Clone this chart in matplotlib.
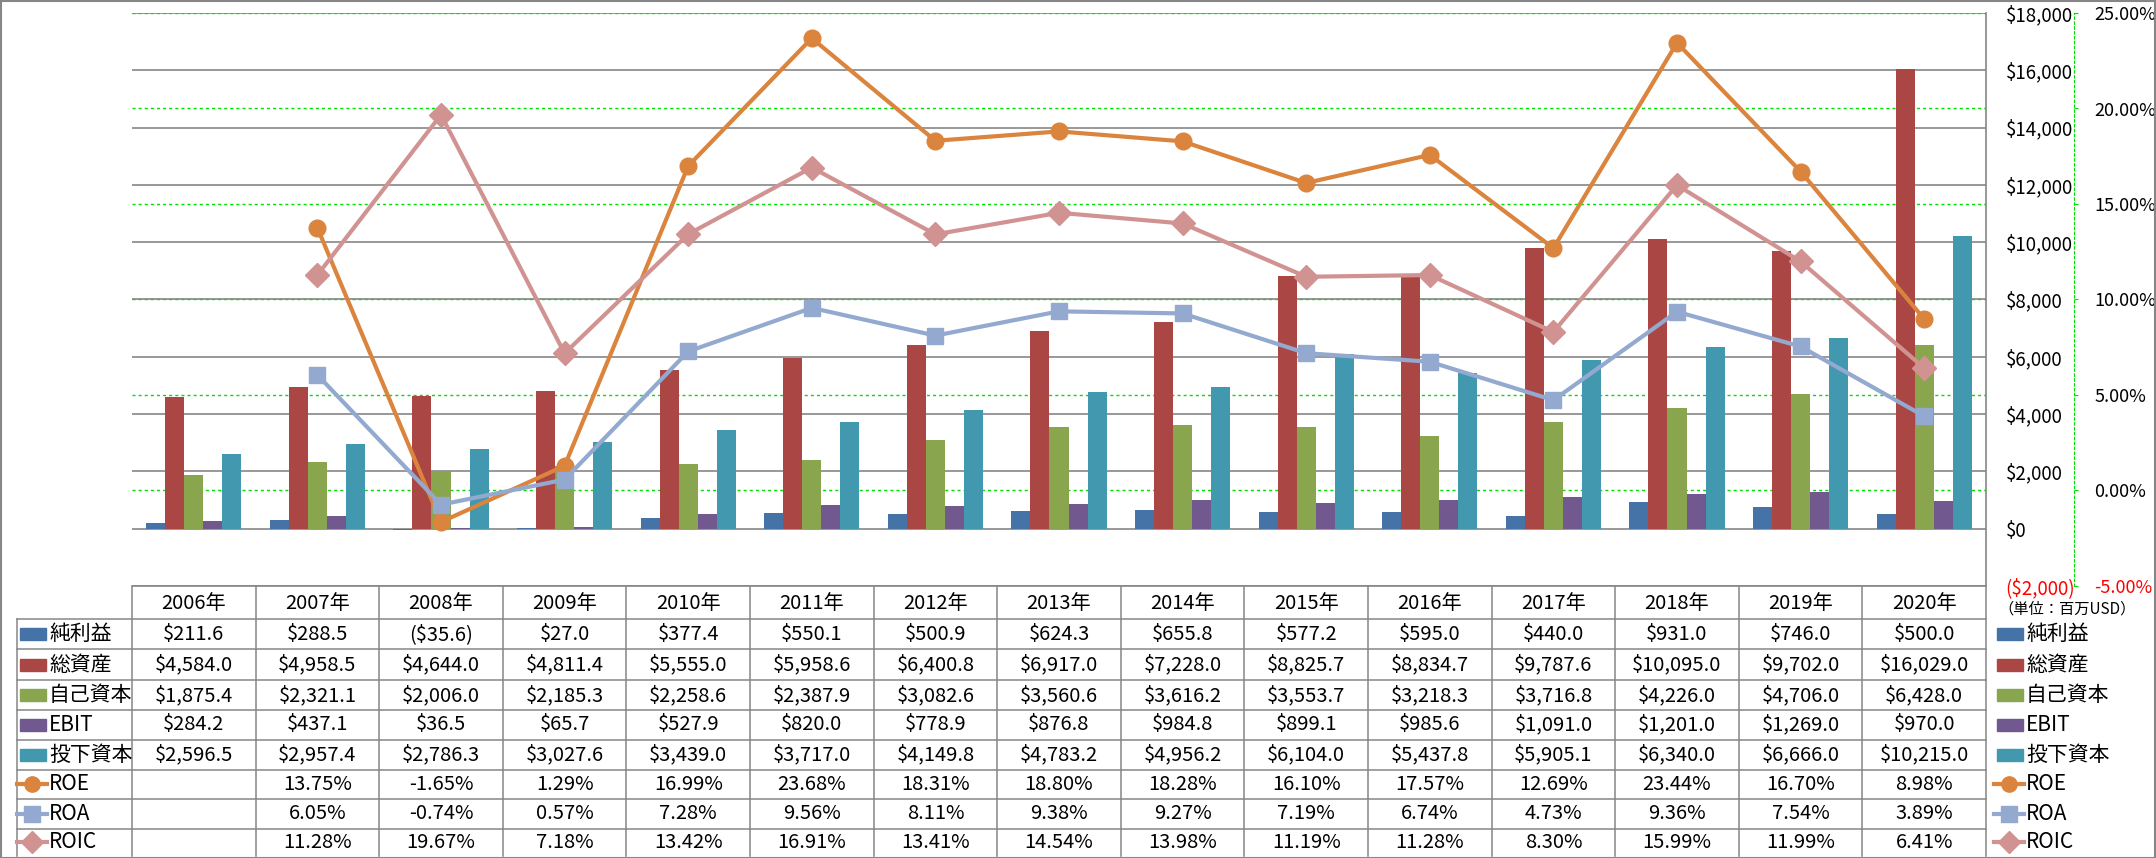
import matplotlib

matplotlib.use("Agg")
import matplotlib.pyplot as plt
import numpy as np
from matplotlib.lines import Line2D
from matplotlib.patches import Rectangle
from matplotlib.ticker import FuncFormatter

plt.rcParams["font.family"] = ["Noto Sans CJK JP", "DejaVu Sans"]

YEARS = [2006, 2007, 2008, 2009, 2010, 2011, 2012, 2013, 2014, 2015, 2016, 2017, 2018, 2019, 2020]

BAR_LABELS = ["純利益", "総資産", "自己資本", "EBIT", "投下資本"]
NET_INCOME = [211.6, 288.5, -35.6, 27.0, 377.4, 550.1, 500.9, 624.3, 655.8, 577.2, 595.0, 440.0, 931.0, 746.0, 500.0]
TOTAL_ASSETS = [4584.0, 4958.5, 4644.0, 4811.4, 5555.0, 5958.6, 6400.8, 6917.0, 7228.0, 8825.7, 8834.7, 9787.6, 10095.0, 9702.0, 16029.0]
EQUITY = [1875.4, 2321.1, 2006.0, 2185.3, 2258.6, 2387.9, 3082.6, 3560.6, 3616.2, 3553.7, 3218.3, 3716.8, 4226.0, 4706.0, 6428.0]
EBIT = [284.2, 437.1, 36.5, 65.7, 527.9, 820.0, 778.9, 876.8, 984.8, 899.1, 985.6, 1091.0, 1201.0, 1269.0, 970.0]
INVESTED = [2596.5, 2957.4, 2786.3, 3027.6, 3439.0, 3717.0, 4149.8, 4783.2, 4956.2, 6104.0, 5437.8, 5905.1, 6340.0, 6666.0, 10215.0]

LINE_LABELS = ["ROE", "ROA", "ROIC"]
ROE = [np.nan, 13.75, -1.65, 1.29, 16.99, 23.68, 18.31, 18.80, 18.28, 16.10, 17.57, 12.69, 23.44, 16.70, 8.98]
ROA = [np.nan, 6.05, -0.74, 0.57, 7.28, 9.56, 8.11, 9.38, 9.27, 7.19, 6.74, 4.73, 9.36, 7.54, 3.89]
ROIC = [np.nan, 11.28, 19.67, 7.18, 13.42, 16.91, 13.41, 14.54, 13.98, 11.19, 11.28, 8.30, 15.99, 11.99, 6.41]

BAR_COLORS = ["#4572A7", "#AA4643", "#89A54E", "#71588F", "#4198AF"]
LINE_COLORS = ["#DB843D", "#93A9CF", "#D19392"]
LINE_MARKERS = ["o", "s", "D"]
GRID_GRAY = "#868686"
GREEN = "#00E000"
FS = 14.5
AXIS_FS = 13.5
LABEL_FS = 15

W, H = 2156, 858
PLOT_L, PLOT_R, PLOT_T, PLOT_B = 132, 1986, 13, 586
ROW_EDGES = [587, 619.3, 649.3, 680.3, 710.3, 739.5, 769.5, 799.3, 828.5, 856]


def dollar(v, _=None, decimals=0):
    text = f"${abs(v):,.{decimals}f}"
    return f"({text})" if v < 0 else text


bar_series = [NET_INCOME, TOTAL_ASSETS, EQUITY, EBIT, INVESTED]
line_series = [ROE, ROA, ROIC]
x = np.arange(len(YEARS))

fig = plt.figure(figsize=(W / 100, H / 100), dpi=100)
pos = [PLOT_L / W, 1 - PLOT_B / H, (PLOT_R - PLOT_L) / W, (PLOT_B - PLOT_T) / H]

# bottom layer: green percent gridlines (behind the bars)
ax_grid = fig.add_axes(pos)
ax_grid.set_ylim(-5, 25)
ax_grid.set_xlim(-0.5, len(YEARS) - 0.5)
ax_grid.set_yticks(np.arange(-5, 26, 5))
ax_grid.set_xticks([])
ax_grid.tick_params(length=0, labelleft=False)
ax_grid.grid(axis="y", color=GREEN, linewidth=1.0, linestyle=(0, (2.2, 2.2)))
for spine in ax_grid.spines.values():
    spine.set_visible(False)

# bars on dollar axis
ax = fig.add_axes(pos)
ax.set_facecolor("none")
width = 0.154
for k, (vals, color) in enumerate(zip(bar_series, BAR_COLORS)):
    ax.bar(x + (k - 2) * width, vals, width=width, color=color, zorder=2)
ax.set_xlim(-0.5, len(YEARS) - 0.5)
ax.set_ylim(-2000, 18000)
ax.set_yticks(np.arange(-2000, 18001, 2000))
ax.set_xticks([])
ax.yaxis.set_major_formatter(FuncFormatter(dollar))
ax.grid(axis="y", color=GRID_GRAY, linewidth=1.2, zorder=0)
ax.set_axisbelow(True)

# lines on percent axis
ax2 = ax.twinx()
for vals, color, marker in zip(line_series, LINE_COLORS, LINE_MARKERS):
    ax2.plot(x, vals, color=color, linewidth=3, marker=marker, markersize=12,
             solid_joinstyle="round", solid_capstyle="round")
ax2.set_ylim(-5, 25)
ax2.set_yticks(np.arange(-5, 26, 5))
ax2.yaxis.set_major_formatter(FuncFormatter(lambda v, _: f"{v:.2f}%"))
ax2.tick_params(axis="y", length=3, color=GREEN, pad=12, labelsize=AXIS_FS - 0.5)
for name, spine in ax2.spines.items():
    spine.set_visible(name == "right")
ax2.spines["right"].set_position(("outward", 63))
ax2.spines["right"].set_color(GREEN)
ax2.spines["right"].set_linestyle((0, (2.2, 2.2)))
ax2.yaxis.get_major_ticks()[0].label2.set_color("red")

# twinx moved the dollar ticks to the left; put them back on the right
ax.yaxis.tick_right()
ax.tick_params(axis="y", length=0, pad=14, labelsize=AXIS_FS)
for name, spine in ax.spines.items():
    spine.set_visible(name in ("right", "bottom"))
    spine.set_color(GRID_GRAY)
    spine.set_linewidth(1.2)
ax.yaxis.get_major_ticks()[0].label2.set_color("red")

# data table drawn in pixel space
tab = fig.add_axes([0, 0, 1, 1], zorder=-1)
tab.set_xlim(0, W)
tab.set_ylim(H, 0)
tab.axis("off")
col_w = (PLOT_R - PLOT_L) / len(YEARS)
col_edges = [PLOT_L + i * col_w for i in range(len(YEARS) + 1)]
line_kw = dict(color=GRID_GRAY, linewidth=1.1)
for cx in col_edges:
    tab.plot([cx, cx], [ROW_EDGES[0], ROW_EDGES[-1]], **line_kw)
tab.plot([17, 17], [ROW_EDGES[1], ROW_EDGES[-1]], **line_kw)
for ry in ROW_EDGES[1:-1]:
    tab.plot([17, PLOT_R], [ry, ry], **line_kw)

row_mid = [(a + b) / 2 for a, b in zip(ROW_EDGES[:-1], ROW_EDGES[1:])]
for i, year in enumerate(YEARS):
    cx = col_edges[i] + col_w / 2
    tab.text(cx, row_mid[0], f"{year}年", ha="center", va="center", fontsize=FS)
    for r, vals in enumerate(bar_series):
        tab.text(cx, row_mid[r + 1], dollar(vals[i], decimals=1), ha="center", va="center", fontsize=FS)
    for r, vals in enumerate(line_series):
        if not np.isnan(vals[i]):
            tab.text(cx, row_mid[r + 6], f"{vals[i]:.2f}%", ha="center", va="center", fontsize=FS)


def legend_key(x0, y, kind, color, marker=None):
    if kind == "bar":
        tab.add_patch(Rectangle((x0 + 3, y - 6), 26, 12, color=color))
    else:
        tab.add_line(Line2D([x0, x0 + 30], [y, y], color=color, linewidth=3))
        tab.add_line(Line2D([x0 + 15], [y], color=color, marker=marker, markersize=11, linestyle="none"))


for lx, tx in ((17, 49), (1994, 2026)):
    for r, label in enumerate(BAR_LABELS):
        legend_key(lx, row_mid[r + 1], "bar", BAR_COLORS[r])
        tab.text(tx, row_mid[r + 1], label, ha="left", va="center", fontsize=LABEL_FS)
    for r, label in enumerate(LINE_LABELS):
        legend_key(lx, row_mid[r + 6], "line", LINE_COLORS[r], LINE_MARKERS[r])
        tab.text(tx, row_mid[r + 6], label, ha="left", va="center", fontsize=LABEL_FS)

tab.text(1998, 609, "（単位：百万USD）", ha="left", va="center", fontsize=11)

fig.add_artist(Rectangle((0.5 / W, 0.5 / H), 1 - 1.5 / W, 1 - 1.5 / H, transform=fig.transFigure,
                         fill=False, edgecolor=GRID_GRAY, linewidth=1.5))

fig.savefig("out.png", dpi=100)
